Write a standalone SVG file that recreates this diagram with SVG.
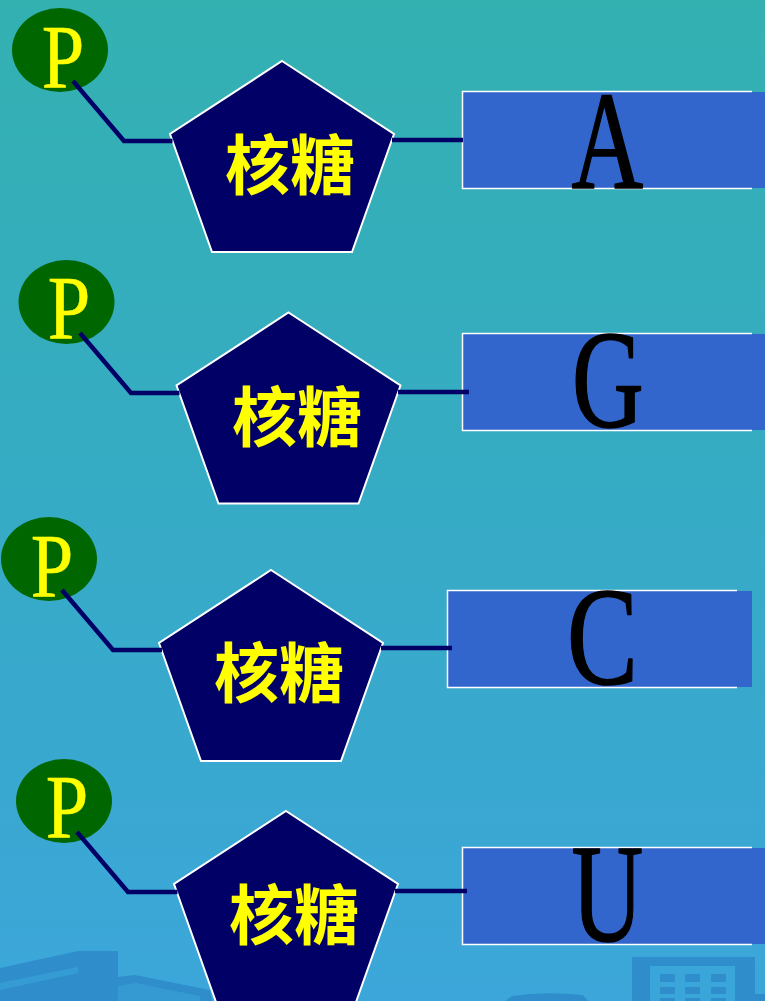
<svg xmlns="http://www.w3.org/2000/svg" width="765" height="1001" viewBox="0 0 765 1001">
  <defs>
    <linearGradient id="bg" x1="0" y1="0" x2="0" y2="1">
      <stop offset="0" stop-color="#33B1B1"/>
      <stop offset="0.5" stop-color="#36ABC5"/>
      <stop offset="1" stop-color="#3CA6DA"/>
    </linearGradient>
    <!-- ribose pentagon, top vertex at origin -->
    <polygon id="penta" points="0,0 112,73 70,191 -70,191 -112,73"/>
  </defs>
  <style>
    .phos { fill: #006600; }
    .plabel { font-family: "Liberation Serif", serif; font-size: 92px; fill: #FFFF00; stroke: #FFFF00; stroke-width: 0.6; text-anchor: middle; }
    .sugar { fill: #000066; stroke: #FFFFFF; stroke-width: 2; stroke-linejoin: miter; }
    .slabel { font-family: "Noto Sans CJK SC", sans-serif; font-weight: bold; font-size: 65px; fill: #FFFF00; text-anchor: middle; }
    .base { fill: #3366CC; }
    .edge { fill: none; stroke: #FFFFFF; stroke-width: 1.5; }
    .blabel { font-family: "Liberation Serif", serif; font-size: 140px; fill: #000000; stroke: #000000; stroke-width: 1.6; stroke-linejoin: round; text-anchor: middle; }
    .bond { fill: none; stroke: #000066; stroke-width: 4.5; }
    .deco { fill: #2E8AC9; }
    .decolight { fill: #3AA6D8; }
  </style>

  <!-- backdrop -->
  <rect x="0" y="0" width="765" height="1001" fill="url(#bg)"/>
  <g id="skyline" opacity="0.85">
    <polygon class="deco" points="0,968 78,951 118,951 118,977 135,975 210,990 212,1001 0,1001"/>
    <polygon class="decolight" points="0,983 78,967 78,973 0,990" opacity="0.6"/>
    <polygon class="decolight" points="118,986 136,983 200,996 200,1001 118,1001" opacity="0.5"/>
    <path class="deco" d="M505,1001 L512,996 Q545,991 583,995 L588,1001 Z"/>
    <rect class="deco" x="632" y="957" width="123" height="44"/>
    <rect class="decolight" x="650" y="966" width="85" height="35"/>
    <g class="deco">
      <rect x="660" y="974" width="15" height="8" rx="1"/>
      <rect x="685" y="974" width="15" height="8" rx="1"/>
      <rect x="711" y="974" width="15" height="8" rx="1"/>
      <rect x="660" y="987" width="15" height="7" rx="1"/>
      <rect x="685" y="987" width="15" height="7" rx="1"/>
      <rect x="711" y="987" width="15" height="7" rx="1"/>
      <rect x="660" y="998" width="15" height="3"/>
      <rect x="685" y="998" width="15" height="3"/>
      <rect x="711" y="998" width="15" height="3"/>
    </g>
    <rect class="deco" x="755" y="994" width="10" height="7"/>
  </g>

  <!-- row 1 -->
  <g id="phosphate1">
    <ellipse class="phos" cx="60" cy="50" rx="48" ry="42"/>
    <text class="plabel" transform="translate(63,88) scale(0.83,1)">P</text>
  </g>
  <g id="ribose1">
    <use href="#penta" class="sugar" x="282" y="61"/>
    <text class="slabel" x="290" y="189">核糖</text>
  </g>
  <g id="baseA">
    <rect class="base" x="463" y="92" width="302" height="96"/>
    <polyline class="edge" points="752,91.5 462.5,91.5 462.5,188.5 752,188.5"/>
    <text class="blabel" transform="translate(607.5,187.5) scale(0.71,1)">A</text>
  </g>

  <!-- row 2 -->
  <g id="phosphate2">
    <ellipse class="phos" cx="66.5" cy="302" rx="48" ry="42"/>
    <text class="plabel" transform="translate(69,339) scale(0.83,1)">P</text>
  </g>
  <g id="ribose2">
    <use href="#penta" class="sugar" x="288.5" y="312.5"/>
    <text class="slabel" x="297" y="441">核糖</text>
  </g>
  <g id="baseG">
    <rect class="base" x="463" y="334" width="302" height="96"/>
    <polyline class="edge" points="752,333.5 462.5,333.5 462.5,430.5 752,430.5"/>
    <text class="blabel" transform="translate(608,426.5) scale(0.71,1)">G</text>
  </g>

  <!-- row 3 -->
  <g id="phosphate3">
    <ellipse class="phos" cx="49" cy="559" rx="48" ry="42"/>
    <text class="plabel" transform="translate(52,596.5) scale(0.83,1)">P</text>
  </g>
  <g id="ribose3">
    <use href="#penta" class="sugar" x="271" y="570"/>
    <text class="slabel" x="279" y="697">核糖</text>
  </g>
  <g id="baseC">
    <rect class="base" x="448" y="591" width="304" height="96"/>
    <polyline class="edge" points="737,590.5 447.5,590.5 447.5,687.5 737,687.5"/>
    <text class="blabel" transform="translate(602.5,683.5) scale(0.76,1)">C</text>
  </g>

  <!-- row 4 -->
  <g id="phosphate4">
    <ellipse class="phos" cx="64" cy="801" rx="48" ry="42"/>
    <text class="plabel" transform="translate(67,838) scale(0.83,1)">P</text>
  </g>
  <g id="ribose4">
    <use href="#penta" class="sugar" x="286" y="811"/>
    <text class="slabel" x="294" y="939">核糖</text>
  </g>
  <g id="baseU">
    <rect class="base" x="463" y="848" width="302" height="96"/>
    <polyline class="edge" points="752,847.5 462.5,847.5 462.5,944.5 752,944.5"/>
    <text class="blabel" transform="translate(607.5,940.5) scale(0.71,1)">U</text>
  </g>

  <!-- bonds: phosphate to ribose, ribose to base (drawn on top) -->
  <g id="connectors">
    <polyline class="bond" points="73,81 124,141 172.5,141"/>
    <line class="bond" x1="392" y1="140" x2="463" y2="140"/>
    <polyline class="bond" points="80,333 131,393 179.5,393"/>
    <line class="bond" x1="398" y1="392" x2="469" y2="392"/>
    <polyline class="bond" points="62,590 113,650 162,650"/>
    <line class="bond" x1="381" y1="648" x2="452" y2="648"/>
    <polyline class="bond" points="77,832 128,892 177.5,892"/>
    <line class="bond" x1="395" y1="891" x2="467" y2="891"/>
  </g>
</svg>
